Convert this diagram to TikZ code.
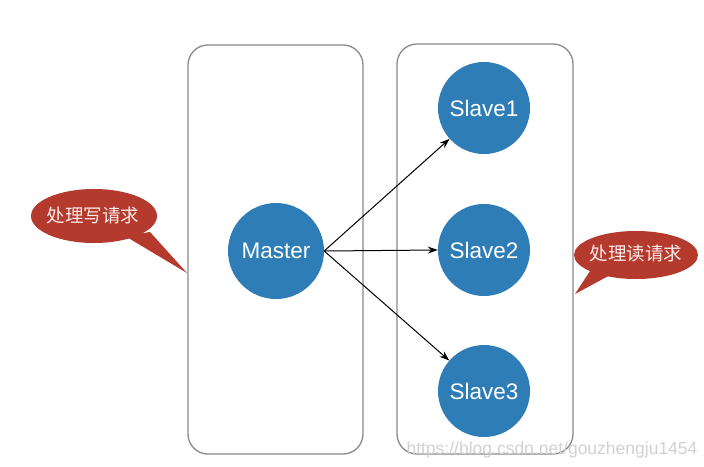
\documentclass[tikz,border=0pt]{standalone}
\usepackage{fontspec}
\setmainfont{Liberation Sans}
\newfontfamily\cjk{Noto Sans CJK SC}
\usetikzlibrary{arrows.meta}
\definecolor{cblue}{HTML}{2F7DB6}
\definecolor{cred}{HTML}{B33A2C}
\definecolor{cgray}{HTML}{8A8A8A}
\begin{document}
\begin{tikzpicture}[x=1pt,y=-1pt,
  panel/.style={draw=cgray,line width=1.3pt,rounded corners=20pt},
  srv/.style={circle,fill=cblue,text=white,inner sep=0pt,font=\fontsize{22.5}{24}\selectfont},
  link/.style={draw=black,line width=1pt,-{Stealth[length=10pt,width=7pt]}},
  bubble/.style={fill=cred,draw=none},
  btext/.style={text=white!92!red,font=\cjk\fontsize{18.5}{20}\selectfont}]
\useasboundingbox (0,0) rectangle (704,466);
\fill[white] (0,0) rectangle (704,466);
% panels
\draw[panel] (188,45) rectangle (363,454);
\draw[panel] (397,44) rectangle (573,454);
% servers
\node[srv,minimum size=96pt] (m) at (276,251) {Master};
\node[srv,minimum size=92pt] (s1) at (484,108) {Slave1};
\node[srv,minimum size=92pt] (s2) at (484,250) {Slave2};
\node[srv,minimum size=92pt] (s3) at (484,391) {Slave3};
\draw[link] (m.east) -- (s1);
\draw[link] (m.east) -- (s2.west);
\draw[link] (m.east) -- (s3);
% callouts
\fill[bubble] (125,236) -- (187,273) -- (150,232) -- cycle;
\fill[bubble] (94,216) ellipse [x radius=63pt, y radius=27pt];
\node[btext] (w) at (93,215) {处理写请求};
\fill[bubble] (592,268) -- (575,294) -- (612,274) -- cycle;
\fill[bubble] (636,255) ellipse [x radius=62pt, y radius=24pt];
\node[btext] (r) at (636,254) {处理读请求};
% watermark
\node[text=black!18,font=\fontsize{17.5}{19}\selectfont,anchor=west] (wm) at (403,450) {https://blog.csdn.net/gouzhengju1454};
\end{tikzpicture}
\end{document}
